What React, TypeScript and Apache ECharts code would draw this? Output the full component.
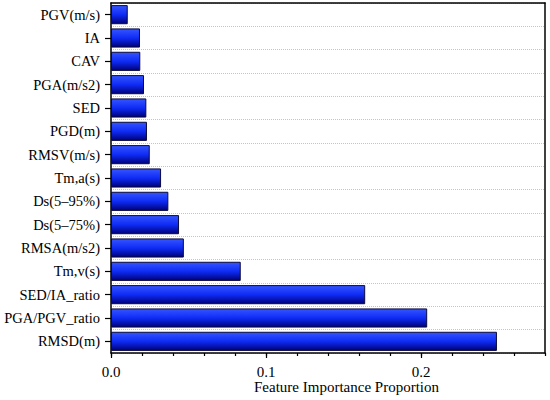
import { useEffect, useRef } from "react";
import * as echarts from "echarts";

const categories = [
  "RMSD(m)",
  "PGA/PGV_ratio",
  "SED/IA_ratio",
  "Tm,v(s)",
  "RMSA(m/s2)",
  "Ds(5–75%)",
  "Ds(5–95%)",
  "Tm,a(s)",
  "RMSV(m/s)",
  "PGD(m)",
  "SED",
  "PGA(m/s2)",
  "CAV",
  "IA",
  "PGV(m/s)",
];

const importance = [
  0.249, 0.204, 0.164, 0.0837, 0.047, 0.0439, 0.037, 0.0323, 0.025, 0.0232,
  0.0228, 0.0213, 0.0189, 0.0187, 0.0108,
];

const majorTicks = [0, 0.1, 0.2];
const axisMin = 0;
const axisMax = 0.28;
const minorInterval = 0.02;
const majorInterval = 0.1;
const xAxisTitle = "Feature Importance Proportion";

const FONT = "Liberation Serif";

export default function App() {
  const ref = useRef<HTMLDivElement>(null);

  useEffect(() => {
    if (!ref.current) return;
    const chart = echarts.init(ref.current, undefined, { renderer: "svg" });
    const frameLine = { show: true, onZero: false, lineStyle: { color: "#000", width: 1.5 } };
    const plotLeft = 111;
    const plotRight = 5;
    const plotWidth = 550 - plotLeft - plotRight;
    const lastMajor = majorTicks[majorTicks.length - 1];
    const majorRight = plotRight + plotWidth * (1 - lastMajor / axisMax);
    const barGradient = {
      type: "linear",
      x: 0,
      y: 0,
      x2: 0,
      y2: 1,
      colorStops: [
        { offset: 0, color: "#3555ff" },
        { offset: 0.5, color: "#0f2cf5" },
        { offset: 1, color: "#000078" },
      ],
      global: false,
    };
    chart.setOption({
      animation: false,
      backgroundColor: "#fff",
      grid: [
        { left: plotLeft, right: plotRight, top: 3, bottom: 47 },
        { left: plotLeft, right: majorRight, top: 3, bottom: 47 },
      ],
      graphic: [
        {
          type: "text",
          x: 346.5,
          y: 387,
          style: {
            text: xAxisTitle,
            fill: "#000",
            fontSize: 15,
            fontFamily: FONT,
            align: "center",
            verticalAlign: "middle",
          },
        },
      ],
      xAxis: [
        {
          gridIndex: 0,
          type: "value",
          min: axisMin,
          max: axisMax,
          interval: minorInterval,
          position: "bottom",
          axisLine: frameLine,
          axisTick: { show: true, length: 3, lineStyle: { color: "#000", width: 1.2 } },
          axisLabel: { show: false },
          splitLine: { show: false },
        },
        {
          gridIndex: 0,
          type: "value",
          min: axisMin,
          max: axisMax,
          position: "top",
          axisLine: frameLine,
          axisTick: { show: false },
          axisLabel: { show: false },
          splitLine: { show: false },
        },
        {
          gridIndex: 1,
          type: "value",
          min: majorTicks[0],
          max: lastMajor,
          interval: majorInterval,
          position: "bottom",
          axisLine: { show: false, onZero: false },
          axisTick: { show: true, length: 5, lineStyle: { color: "#000", width: 1.2 } },
          axisLabel: {
            formatter: (v: number) => v.toFixed(1),
            fontSize: 15,
            margin: 11,
            color: "#000",
            fontFamily: FONT,
          },
          splitLine: { show: false },
        },
      ],
      yAxis: [
        {
          gridIndex: 0,
          type: "category",
          data: categories,
          position: "left",
          axisLine: frameLine,
          axisTick: {
            show: true,
            alignWithLabel: true,
            length: 6,
            lineStyle: { color: "#000", width: 1.2 },
          },
          axisLabel: {
            fontSize: 14.5,
            margin: 11,
            color: "#000",
            fontFamily: FONT,
          },
          splitLine: {
            show: true,
            lineStyle: { color: "#c4c4c4", type: "dotted", width: 1 },
          },
        },
        {
          gridIndex: 0,
          type: "category",
          data: categories,
          position: "right",
          axisLine: frameLine,
          axisTick: { show: false },
          axisLabel: { show: false },
          splitLine: { show: false },
        },
        {
          gridIndex: 1,
          type: "category",
          data: categories,
          show: false,
        },
      ],
      series: [
        {
          type: "bar",
          xAxisIndex: 0,
          yAxisIndex: 0,
          data: importance,
          barCategoryGap: "18%",
          itemStyle: {
            color: barGradient,
            borderColor: "#0a0a3a",
            borderWidth: 1,
          },
        },
      ],
    });
    return () => chart.dispose();
  }, []);

  return (
    <div
      ref={ref}
      style={{ width: 550, height: 400, position: "fixed", left: 0, top: 0 }}
    />
  );
}
